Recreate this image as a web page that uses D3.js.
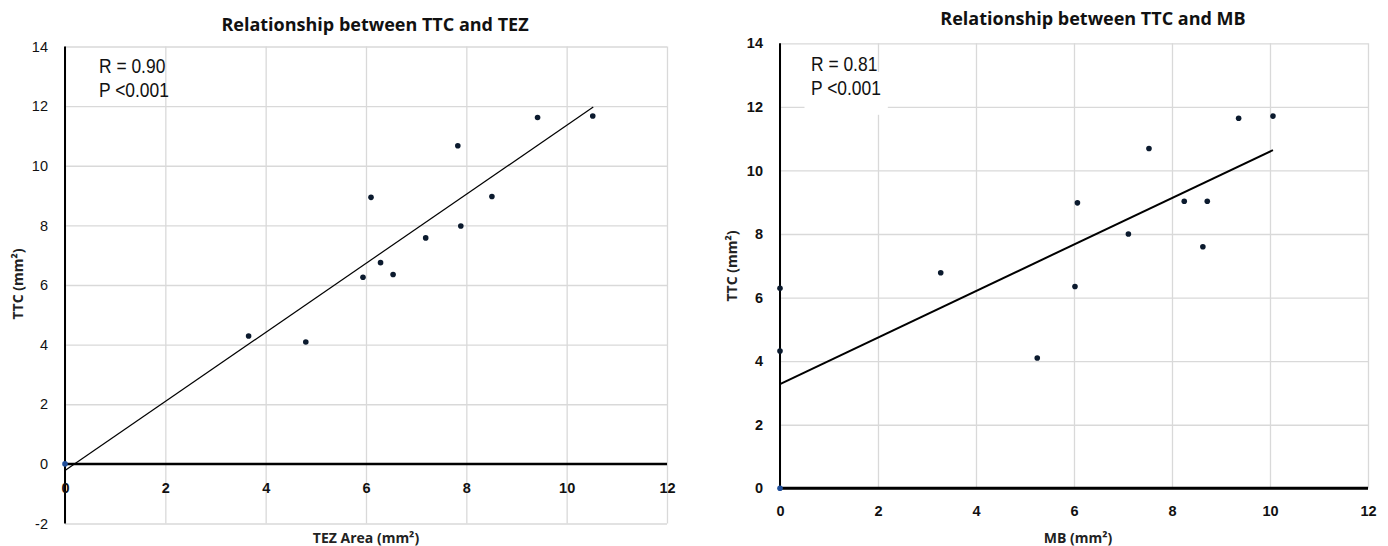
<!DOCTYPE html>
<html>
<head>
<meta charset="utf-8">
<script src="https://cdn.jsdelivr.net/npm/d3@7"></script>
<style>
  body { margin: 0; background: #fff; }
  svg { display: block; }
</style>
</head>
<body>
<script>
// TTC vs TEZ area
var tezX   = [0, 3.66, 4.80, 5.94, 6.10, 6.29, 6.54, 7.19, 7.83, 7.89, 8.51, 9.42, 10.52];
var tezTTC = [0, 4.29, 4.09, 6.26, 8.94, 6.75, 6.35, 7.58, 10.67, 7.98, 8.97, 11.62, 11.67];
var tezTrend = [[0, -0.22], [10.53, 11.97]];

// TTC vs MB
var mbX   = [0, 0, 0, 3.28, 5.25, 6.02, 6.07, 7.11, 7.53, 8.25, 8.63, 8.72, 9.36, 10.06];
var mbTTC = [0, 4.32, 6.29, 6.78, 4.10, 6.35, 8.98, 8.00, 10.69, 9.03, 7.60, 9.03, 11.64, 11.71];
var mbTrend = [[0, 3.28], [10.06, 10.64]];

var xTicks = [0, 2, 4, 6, 8, 10, 12];
var yTicksTEZ = [-2, 0, 2, 4, 6, 8, 10, 12, 14];
var yTicksMB = [0, 2, 4, 6, 8, 10, 12, 14];

var svg = d3.select("body").append("svg")
    .attr("width", 1388)
    .attr("height", 546);

var plain = function(d) { return String(d); };   // keep "-2" with a hyphen like the original

function panel(p) {
  var x = d3.scaleLinear().domain([0, 12]).range([p.left, p.right]);
  var y = d3.scaleLinear().domain([d3.min(p.yTicks), 14]).range([p.bottom, p.top]);
  var g = svg.append("g");

  // gridlines
  g.append("g")
    .attr("transform", "translate(0," + p.bottom + ")")
    .call(d3.axisBottom(x).tickValues(xTicks).tickSize(-(p.bottom - p.top)).tickFormat(""))
    .call(function(a) { a.select(".domain").remove(); })
    .selectAll("line").attr("stroke", "#d9d9d9").attr("stroke-width", 1.3);
  g.append("g")
    .attr("transform", "translate(" + p.left + ",0)")
    .call(d3.axisLeft(y).tickValues(p.yTicks).tickSize(-(p.right - p.left)).tickFormat(""))
    .call(function(a) { a.select(".domain").remove(); })
    .selectAll("line").attr("stroke", "#d9d9d9").attr("stroke-width", 1.3);

  if (p.box) {
    g.append("rect")
      .attr("x", x(0.5)).attr("y", y(13.1))
      .attr("width", x(2.2) - x(0.5)).attr("height", y(11.75) - y(13.1))
      .attr("fill", "#fff");
  }

  // axis lines
  g.append("line")
    .attr("x1", x(0)).attr("x2", x(0))
    .attr("y1", y(14)).attr("y2", y(d3.min(p.yTicks)))
    .attr("stroke", "#000").attr("stroke-width", 2);
  g.append("line")
    .attr("x1", x(0)).attr("x2", x(12))
    .attr("y1", y(0)).attr("y2", y(0))
    .attr("stroke", "#000").attr("stroke-width", p.xAxisWidth);

  // tick labels
  var yl = g.append("g")
    .attr("transform", "translate(" + p.left + ",0)")
    .call(d3.axisLeft(y).tickValues(p.yTicks).tickSize(0).tickPadding(17).tickFormat(plain));
  yl.select(".domain").remove();
  yl.selectAll("text")
    .attr("font-family", "'Liberation Sans', Arial, sans-serif")
    .attr("font-size", 14.5)
    .attr("font-weight", p.yBold ? "bold" : "normal")
    .attr("fill", "#111");

  var xl = g.append("g")
    .attr("transform", "translate(0," + (y(0) + p.xLabelGap) + ")")
    .call(d3.axisBottom(x).tickValues(xTicks).tickSize(0).tickPadding(0).tickFormat(plain));
  xl.select(".domain").remove();
  xl.selectAll("text")
    .attr("dy", "0.35em")
    .attr("font-family", "'Liberation Sans', Arial, sans-serif")
    .attr("font-size", 14.5)
    .attr("font-weight", "bold")
    .attr("fill", "#111");

  // trend line
  g.append("path")
    .attr("d", d3.line().x(function(d) { return x(d[0]); }).y(function(d) { return y(d[1]); })(p.trend))
    .attr("stroke", "#000")
    .attr("stroke-width", p.trendWidth)
    .attr("fill", "none");

  // points
  g.selectAll("circle.pt")
    .data(d3.range(p.xs.length))
    .join("circle")
    .attr("class", "pt")
    .attr("cx", function(i) { return x(p.xs[i]); })
    .attr("cy", function(i) { return y(p.ys[i]); })
    .attr("r", 2.8)
    .attr("fill", function(i) { return p.xs[i] === 0 && p.ys[i] === 0 ? "#1f4e9a" : "#0b1a2e"; });

  // titles
  g.append("text")
    .attr("x", p.titleX).attr("y", p.titleY)
    .attr("text-anchor", "middle")
    .attr("font-family", "'Open Sans', sans-serif")
    .attr("font-weight", "bold")
    .attr("font-size", 18)
    .attr("fill", "#111")
    .text(p.title);

  g.append("text")
    .attr("x", (p.left + p.right) / 2 + p.xTitleShift).attr("y", 543)
    .attr("text-anchor", "middle")
    .attr("font-family", "'Open Sans', sans-serif")
    .attr("font-weight", "bold")
    .attr("font-size", 14)
    .attr("fill", "#222")
    .text(p.xTitle);

  g.append("text")
    .attr("transform", "translate(" + p.yTitleX + "," + p.yTitleY + ") rotate(-90)")
    .attr("text-anchor", "middle")
    .attr("font-family", "'Open Sans', sans-serif")
    .attr("font-weight", "bold")
    .attr("font-size", 14)
    .attr("fill", "#222")
    .text("TTC (mm²)");

  // stats, squeezed like the narrow font in the original
  var st = g.append("text")
    .attr("transform", "translate(" + p.statX + "," + p.statY + ") scale(0.83,1)")
    .attr("font-family", "'Liberation Sans', Arial, sans-serif")
    .attr("font-size", 21)
    .attr("fill", "#111");
  st.append("tspan").attr("x", 0).attr("y", 0).text(p.stats[0]);
  st.append("tspan").attr("x", 0).attr("y", 24).text(p.stats[1]);
}

panel({
  left: 65, right: 667, top: 46.5, bottom: 523.5,
  yTicks: yTicksTEZ, yBold: false, xAxisWidth: 2.5, xLabelGap: 24,
  xs: tezX, ys: tezTTC, trend: tezTrend, trendWidth: 1.2,
  title: "Relationship between TTC and TEZ", titleX: 375, titleY: 31,
  xTitle: "TEZ Area (mm²)", xTitleShift: 0, yTitleX: 23, yTitleY: 284,
  stats: ["R = 0.90", "P <0.001"], statX: 99, statY: 73, box: false
});

panel({
  left: 780, right: 1368, top: 43.3, bottom: 488.3,
  yTicks: yTicksMB, yBold: true, xAxisWidth: 3, xLabelGap: 23,
  xs: mbX, ys: mbTTC, trend: mbTrend, trendWidth: 2,
  title: "Relationship between TTC and MB", titleX: 1093, titleY: 25,
  xTitle: "MB (mm²)", xTitleShift: 4, yTitleX: 737, yTitleY: 266,
  stats: ["R = 0.81", "P <0.001"], statX: 811, statY: 71, box: true
});
</script>
</body>
</html>
